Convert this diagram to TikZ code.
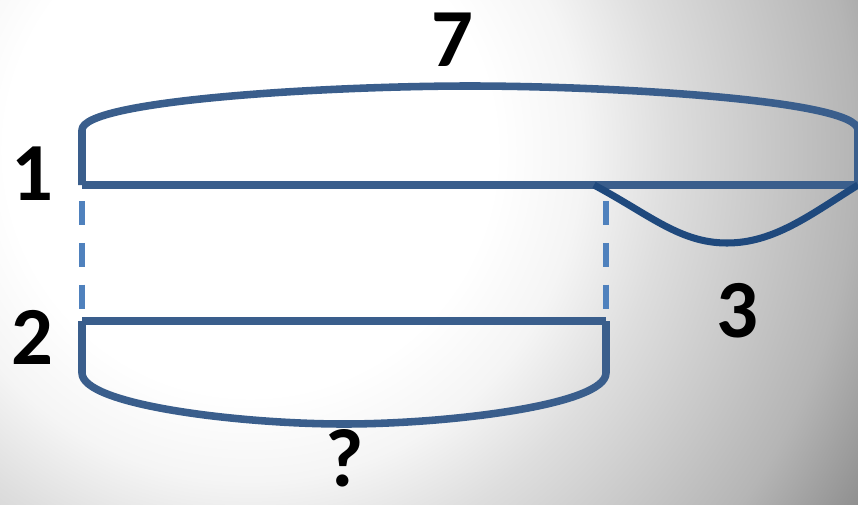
\documentclass[tikz,border=0pt]{standalone}
\usepackage{fontspec}
\setmainfont{Carlito}
\usetikzlibrary{positioning, calc}
\pgfdeclareradialshading{bgglow}{\pgfpoint{0bp}{0bp}}{color(0bp)=(white); color(8.5bp)=(white); color(11.5bp)=(black!4); color(14.5bp)=(black!13); color(21bp)=(black!29); color(24.5bp)=(black!44); color(25bp)=(black!45); color(50bp)=(black!45)}
\tikzset{
    barline/.style={line width=4.3pt, draw={rgb,255:red,58;green,94;blue,140}, line join=round},
    partline/.style={line width=4pt, draw={rgb,255:red,31;green,73;blue,125}},
    guide/.style={line width=3.3pt, draw={rgb,255:red,79;green,129;blue,189}, dash pattern=on 13.6pt off 10.2pt},
    num/.style={font=\fontsize{47}{47}\selectfont\bfseries, inner sep=0pt}
}
\begin{document}
\begin{tikzpicture}[x=0.02cm, y=-0.02cm]
    \useasboundingbox (0,0) rectangle (858,504);
    \clip (0,0) rectangle (858,504);
    \shade[shading=bgglow] (250,150) circle (720);

    % bar ends
    \coordinate (a1) at (82,185);
    \coordinate (b1) at (858,185);
    \coordinate (a2) at (82,321);
    \coordinate (b2) at (606,321);
    \coordinate (cut) at (594,185);

    % bars and braces
    \draw[barline] (a1) -- (b1);
    \draw[barline] (a1) -- (82,130) .. controls (82,100) and (330,86) .. (470,86)
        .. controls (610,86) and (858,100) .. (858,130) -- (b1);
    \draw[barline] (a2) -- (b2);
    \draw[barline] (a2) -- (82,373) .. controls (82,405) and (240,424) .. (344,424)
        .. controls (448,424) and (606,405) .. (606,373) -- (b2);
    \draw[partline] (cut) .. controls (650,215) and (680,243) .. (727,243)
        .. controls (774,243) and (810,215) .. (b1);

    % dashed guides
    \draw[guide] (82,201) -- (82,309);
    \draw[guide] (606,201) -- (606,309);

    \node[num] (lbl7) at (452,40) {7};
    \node[num] (lbl1) at (32,174) {1};
    \node[num] (lbl2) at (32,337) {2};
    \node[num] (lbl3) at (737,311) {3};
    \node[num] (lblq) at (345,458) {?};
\end{tikzpicture}
\end{document}
